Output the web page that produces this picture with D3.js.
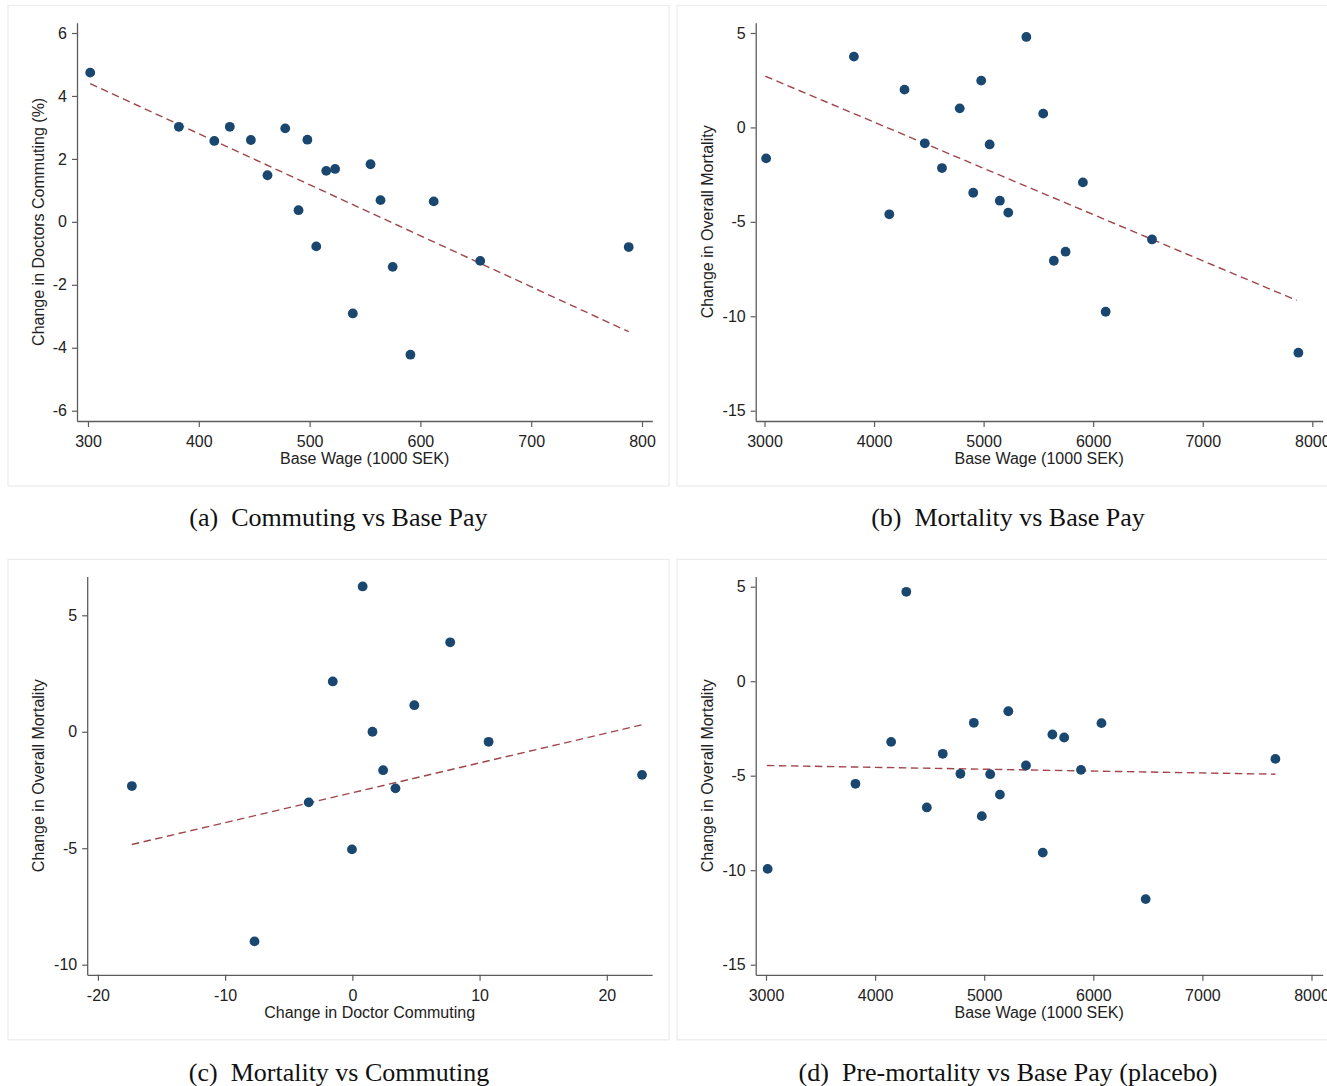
<!DOCTYPE html>
<html>
<head>
<meta charset="utf-8">
<script src="https://cdn.jsdelivr.net/npm/d3@7"></script>
<style>
  body { margin: 0; background: #fff; }
  svg { display: block; }
  .tick text { font-family: "Liberation Sans", Arial, sans-serif; font-size: 16px; fill: #222; }
</style>
</head>
<body>
<script>
// ---- data ----
// (a) Commuting vs Base Pay
const wageA = [302, 382, 414, 428, 447, 462, 478, 498, 490, 506, 515, 523, 555, 564, 539, 575, 591, 612, 654, 788];
const commA = [4.74, 3.02, 2.57, 3.02, 2.60, 1.48, 2.97, 2.61, 0.37, -0.78, 1.62, 1.68, 1.83, 0.69, -2.91, -1.43, -4.22, 0.65, -1.24, -0.80];
const fitXA = [302, 788];
const fitYA = [4.39, -3.49];

// (b) Mortality vs Base Pay
const wageB = [3015, 3816, 4139, 4278, 4463, 4620, 4782, 4905, 4978, 5055, 5148, 5225, 5390, 5544, 5641, 5748, 5906, 6114, 6537, 7873];
const mortB = [-1.64, 3.75, -4.60, 2.00, -0.84, -2.15, 1.01, -3.46, 2.48, -0.90, -3.88, -4.51, 4.79, 0.73, -7.06, -6.58, -2.91, -9.76, -5.93, -11.93];
const fitXB = [3008, 7858];
const fitYB = [2.71, -9.16];

// (c) Mortality vs Commuting
const commC = [-17.33, -7.69, -3.43, -1.54, -0.03, 0.81, 1.58, 2.42, 3.39, 4.87, 7.69, 10.71, 22.77];
const mortC = [-2.33, -9.00, -3.03, 2.16, -5.05, 6.24, 0.00, -1.65, -2.43, 1.14, 3.84, -0.43, -1.85];
const fitXC = [-17.33, 22.77];
const fitYC = [-4.84, 0.30];

// (d) Pre-mortality vs Base Pay (placebo)
const wageD = [3015, 3820, 4147, 4286, 4474, 4620, 4782, 4905, 4978, 5055, 5144, 5221, 5383, 5537, 5625, 5733, 5887, 6075, 6480, 7669];
const mortD = [-9.93, -5.43, -3.21, 4.73, -6.68, -3.84, -4.90, -2.20, -7.14, -4.92, -6.00, -1.59, -4.46, -9.07, -2.82, -2.98, -4.69, -2.22, -11.53, -4.11];
const fitXD = [3008, 7669];
const fitYD = [-4.46, -4.92];

// tick labels
const xTicksA = [300, 400, 500, 600, 700, 800];
const yTicksA = [6, 4, 2, 0, -2, -4, -6];
const xTicksWage = [3000, 4000, 5000, 6000, 7000, 8000];
const yTicksMort = [5, 0, -5, -10, -15];
const xTicksC = [-20, -10, 0, 10, 20];
const yTicksC = [5, 0, -5, -10];

const width = 1327, height = 1086;
const dotColor = "#1a476f";
const fitColor = "#a0454c";
const axisColor = "#5c5c5c";

const svg = d3.select("body").append("svg")
    .attr("width", width)
    .attr("height", height);

svg.append("rect").attr("width", width).attr("height", height).attr("fill", "#fff");

// panel layout: frame, axis positions and tick anchors (pixels)
const panels = [
  { xs: wageA, ys: commA, fx: fitXA, fy: fitYA,
    frame: [8, 5.5, 661, 480.5], left: 77, right: 652.3, top: 22.7, bottom: 421,
    xDom: [300, 800], xRng: [88, 642], yDom: [6, -6], yRng: [33, 410.7],
    xTicks: xTicksA, yTicks: yTicksA,
    xTitle: "Base Wage (1000 SEK)", yTitle: "Change in Doctors Commuting (%)",
    caption: "(a)", captionText: "Commuting vs Base Pay", capX: 338.5, capY: 526 },
  { xs: wageB, ys: mortB, fx: fitXB, fy: fitYB,
    frame: [677, 5.5, 670, 480.5], left: 755.7, right: 1322.7, top: 22.7, bottom: 421,
    xDom: [3000, 8000], xRng: [764.5, 1312.3], yDom: [5, -15], yRng: [33, 410.7],
    xTicks: xTicksWage, yTicks: yTicksMort,
    xTitle: "Base Wage (1000 SEK)", yTitle: "Change in Overall Mortality",
    caption: "(b)", captionText: "Mortality vs Base Pay", capX: 1008, capY: 526 },
  { xs: commC, ys: mortC, fx: fitXC, fy: fitYC,
    frame: [8, 559.3, 661, 480.5], left: 87.2, right: 652.1, top: 576.5, bottom: 974.8,
    xDom: [-20, 20], xRng: [97.9, 606.8], yDom: [5, -10], yRng: [615.3, 964.7],
    xTicks: xTicksC, yTicks: yTicksC,
    xTitle: "Change in Doctor Commuting", yTitle: "Change in Overall Mortality",
    caption: "(c)", captionText: "Mortality vs Commuting", capX: 339, capY: 1081 },
  { xs: wageD, ys: mortD, fx: fitXD, fy: fitYD,
    frame: [677, 559.3, 670, 480.5], left: 755.7, right: 1322.7, top: 576.5, bottom: 974.8,
    xDom: [3000, 8000], xRng: [766, 1311.5], yDom: [5, -15], yRng: [586.7, 964.7],
    xTicks: xTicksWage, yTicks: yTicksMort,
    xTitle: "Base Wage (1000 SEK)", yTitle: "Change in Overall Mortality",
    caption: "(d)", captionText: "Pre-mortality vs Base Pay (placebo)", capX: 1008, capY: 1081 }
];

panels.forEach(p => {
  const g = svg.append("g");

  // light frame around each graph
  g.append("rect")
    .attr("x", p.frame[0]).attr("y", p.frame[1])
    .attr("width", p.frame[2]).attr("height", p.frame[3])
    .attr("fill", "#fff")
    .attr("stroke", "#ececec")
    .attr("stroke-width", 1.2);

  // scales anchored on the tick positions, then stretched to the axis ends
  const x = d3.scaleLinear().domain(p.xDom).range(p.xRng);
  const y = d3.scaleLinear().domain(p.yDom).range(p.yRng);
  x.domain([x.invert(p.left), x.invert(p.right)]).range([p.left, p.right]);
  y.domain([y.invert(p.top), y.invert(p.bottom)]).range([p.top, p.bottom]);

  const xAxis = g.append("g")
    .attr("transform", `translate(0,${p.bottom})`)
    .call(d3.axisBottom(x).tickValues(p.xTicks).tickFormat(d3.format("d"))
      .tickSize(6).tickPadding(9).tickSizeOuter(0));

  const yAxis = g.append("g")
    .attr("transform", `translate(${p.left},0)`)
    .call(d3.axisLeft(y).tickValues(p.yTicks).tickFormat(d3.format("d"))
      .tickSize(5).tickPadding(5).tickSizeOuter(0));

  [xAxis, yAxis].forEach(a => {
    a.select(".domain").attr("stroke", axisColor).attr("stroke-width", 1.3);
    a.selectAll(".tick line").attr("stroke", axisColor).attr("stroke-width", 1.2);
    a.selectAll(".tick text").text(d => d < 0 ? "-" + Math.abs(d) : d);
  });

  // axis titles
  g.append("text")
    .attr("x", (p.left + p.right) / 2)
    .attr("y", p.bottom + 43)
    .attr("text-anchor", "middle")
    .style("font-family", "'Liberation Sans', Arial, sans-serif")
    .style("font-size", "16px")
    .attr("fill", "#222")
    .text(p.xTitle);

  g.append("text")
    .attr("transform", `translate(${p.frame[0] + 30},${(p.top + p.bottom) / 2}) rotate(-90)`)
    .attr("text-anchor", "middle")
    .attr("dy", "0.35em")
    .style("font-family", "'Liberation Sans', Arial, sans-serif")
    .style("font-size", "16px")
    .attr("fill", "#222")
    .text(p.yTitle);

  // fitted line
  const fitPts = p.fx.map((v, i) => [v, p.fy[i]]);
  g.append("path")
    .datum(fitPts)
    .attr("fill", "none")
    .attr("stroke", fitColor)
    .attr("stroke-width", 1.4)
    .attr("stroke-dasharray", "7.5,4.5")
    .attr("d", d3.line().x(d => x(d[0])).y(d => y(d[1])));

  // scatter points
  const pts = p.xs.map((v, i) => ({ x: v, y: p.ys[i] }));
  g.selectAll("circle.dot")
    .data(pts)
    .join("circle")
    .attr("class", "dot")
    .attr("cx", d => x(d.x))
    .attr("cy", d => y(d.y))
    .attr("r", 4.9)
    .attr("fill", dotColor);

  // sub-figure caption
  const cap = svg.append("text")
    .attr("x", p.capX)
    .attr("y", p.capY)
    .attr("text-anchor", "middle")
    .style("font-family", "'Liberation Serif', 'Times New Roman', serif")
    .style("font-size", "26px")
    .attr("fill", "#111");
  cap.append("tspan").text(p.caption);
  cap.append("tspan").attr("dx", 13).text(p.captionText);
});
</script>
</body>
</html>
